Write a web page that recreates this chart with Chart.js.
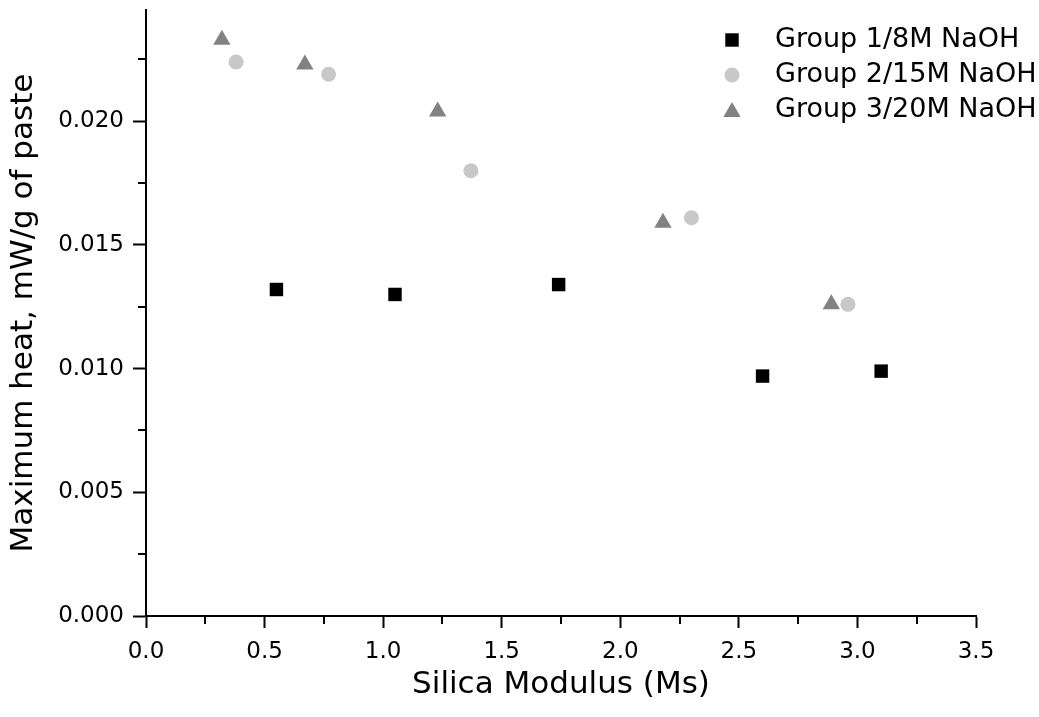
<!DOCTYPE html>
<html>
<head>
<meta charset="utf-8">
<script src="https://cdn.jsdelivr.net/npm/chart.js@4/dist/chart.umd.min.js"></script>
<style>
  html, body { margin: 0; padding: 0; background: #fff; }
  #wrap { width: 1039px; height: 717px; }
</style>
</head>
<body>
<div id="wrap"><canvas id="heatChart" width="1039" height="717"></canvas></div>
<script>
// data
const seriesLabels = ["Group 1/8M NaOH", "Group 2/15M NaOH", "Group 3/20M NaOH"];
const group1X = [0.55, 1.05, 1.74, 2.60, 3.10];
const group1Y = [0.0132, 0.0130, 0.0134, 0.0097, 0.0099];
const group2X = [0.38, 0.77, 1.37, 2.30, 2.96];
const group2Y = [0.0224, 0.0219, 0.0180, 0.0161, 0.0126];
const group3X = [0.32, 0.67, 1.23, 2.18, 2.89];
const group3Y = [0.0233, 0.0223, 0.0204, 0.0159, 0.0126];
const xTicks = [0.0, 0.5, 1.0, 1.5, 2.0, 2.5, 3.0, 3.5];
const yTicks = [0.000, 0.005, 0.010, 0.015, 0.020];

const FONT = "'DejaVu Sans', 'Liberation Sans', Arial, sans-serif";

const toPoints = (xs, ys) => xs.map((x, i) => ({ x: x, y: ys[i] }));

// minor ticks halfway between the major ones, shorter than majors
const minorTicks = {
  id: "minorTicks",
  afterDraw(chart) {
    const ctx = chart.ctx;
    const xs = chart.scales.x;
    const ys = chart.scales.y;
    ctx.save();
    ctx.strokeStyle = "#000";
    ctx.lineWidth = 2;
    ctx.beginPath();
    for (let i = 0; i < xTicks.length - 1; i++) {
      const px = Math.round(xs.getPixelForValue((xTicks[i] + xTicks[i + 1]) / 2));
      ctx.moveTo(px, xs.top);
      ctx.lineTo(px, xs.top + 8);
    }
    const yStep = yTicks[1] - yTicks[0];
    for (let i = 0; i < yTicks.length; i++) {
      const v = yTicks[i] + yStep / 2;
      if (v > ys.max) break;
      const py = Math.round(ys.getPixelForValue(v));
      ctx.moveTo(ys.right, py);
      ctx.lineTo(ys.right - 8, py);
    }
    ctx.stroke();
    ctx.restore();
  },
};

// legend drawn inside the plot, top right
const insideLegend = {
  id: "insideLegend",
  afterDraw(chart) {
    const ctx = chart.ctx;
    const markerX = 732;
    const textX = 775;
    const rows = [40, 75, 110];
    ctx.save();
    chart.data.datasets.forEach((ds, i) => {
      const opts = {
        pointStyle: ds.pointStyle,
        radius: ds.pointRadius,
        rotation: 0,
        borderWidth: 0,
      };
      ctx.fillStyle = ds.backgroundColor;
      ctx.strokeStyle = ds.backgroundColor;
      Chart.helpers.drawPoint(ctx, opts, markerX, rows[i] + (ds.pointStyle === "triangle" ? 2 : 0));
      ctx.fillStyle = "#000";
      ctx.font = "27px " + FONT;
      ctx.textBaseline = "middle";
      ctx.textAlign = "left";
      ctx.fillText(ds.label, textX, rows[i]);
    });
    ctx.restore();
  },
};

const axisCommon = {
  type: "linear",
  border: { display: true, color: "#000", width: 2 },
};

new Chart(document.getElementById("heatChart"), {
  type: "scatter",
  data: {
    datasets: [
      {
        label: seriesLabels[0],
        data: toPoints(group1X, group1Y),
        pointStyle: "rect",
        pointRadius: 9.5,
        pointHoverRadius: 9.5,
        pointBorderWidth: 0,
        backgroundColor: "#000000",
        borderColor: "#000000",
      },
      {
        label: seriesLabels[1],
        data: toPoints(group2X, group2Y),
        pointStyle: "circle",
        pointRadius: 7.5,
        pointHoverRadius: 7.5,
        pointBorderWidth: 0,
        backgroundColor: "#c8c8c8",
        borderColor: "#c8c8c8",
      },
      {
        label: seriesLabels[2],
        data: toPoints(group3X, group3Y),
        pointStyle: "triangle",
        pointRadius: 10,
        pointHoverRadius: 10,
        pointBorderWidth: 0,
        backgroundColor: "#828282",
        borderColor: "#828282",
      },
    ],
  },
  options: {
    responsive: false,
    animation: false,
    events: [],
    layout: { padding: { left: 0, right: 63, top: 7, bottom: 0 } },
    plugins: {
      legend: { display: false },
      tooltip: { enabled: false },
    },
    scales: {
      x: {
        ...axisCommon,
        min: 0,
        max: 3.5,
        afterBuildTicks: (s) => { s.ticks = xTicks.map((v) => ({ value: v })); },
        afterFit: (s) => {
          s.height = 101;
          s.paddingLeft = 0;
          s.paddingRight = 0;
        },
        grid: {
          drawOnChartArea: false,
          drawTicks: true,
          tickLength: 12,
          tickColor: "#000",
          tickWidth: 2,
        },
        ticks: {
          color: "#000",
          padding: 10,
          maxRotation: 0,
          font: { family: FONT, size: 23 },
          callback: (v) => Number(v).toFixed(1),
        },
        title: {
          display: true,
          text: "Silica Modulus (Ms)",
          color: "#000",
          font: { family: FONT, size: 31, lineHeight: 1.2 },
          padding: { top: 0, bottom: 13 },
        },
      },
      y: {
        ...axisCommon,
        min: 0,
        max: 0.0245,
        afterBuildTicks: (s) => { s.ticks = yTicks.map((v) => ({ value: v })); },
        afterFit: (s) => {
          s.width = 146;
          s.paddingTop = 0;
          s.paddingBottom = 0;
        },
        grid: {
          drawOnChartArea: false,
          drawTicks: true,
          tickLength: 13,
          tickColor: "#000",
          tickWidth: 2,
        },
        ticks: {
          color: "#000",
          padding: 9,
          font: { family: FONT, size: 23 },
          callback: (v) => Number(v).toFixed(3),
        },
        title: {
          display: true,
          text: "Maximum heat, mW/g of paste",
          color: "#000",
          font: { family: FONT, size: 31, lineHeight: 1.2 },
          padding: { top: 5, bottom: 0 },
        },
      },
    },
  },
  plugins: [minorTicks, insideLegend],
});
</script>
</body>
</html>
